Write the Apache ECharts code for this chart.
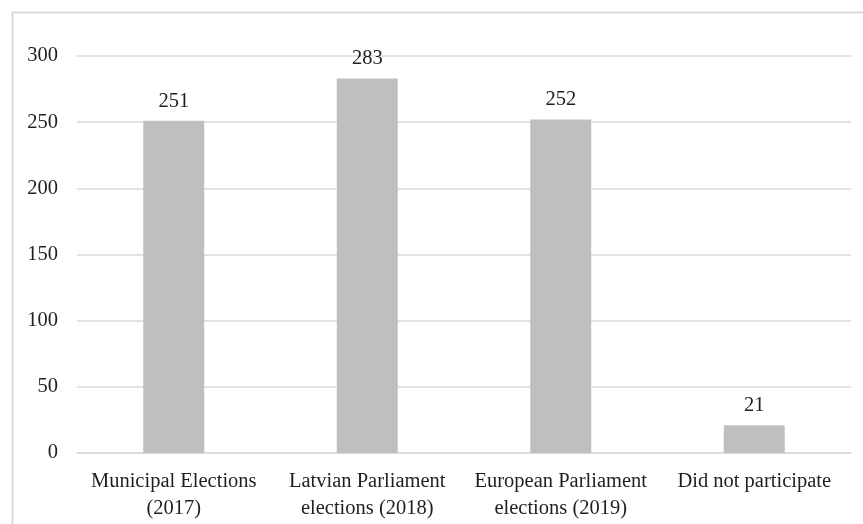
<!DOCTYPE html>
<html>
<head>
<meta charset="utf-8">
<script src="https://cdn.jsdelivr.net/npm/echarts@6/dist/echarts.min.js"></script>
<style>
  html, body { margin: 0; padding: 0; background: #fff; }
  #chart { width: 863px; height: 524px; }
</style>
</head>
<body>
<div id="chart"></div>
<script>
// Election participation counts
const categories = [
  'Municipal Elections\n(2017)',
  'Latvian Parliament\nelections (2018)',
  'European Parliament\nelections (2019)',
  'Did not participate'
];
const counts = [251, 283, 252, 21];
const yTicks = { min: 0, max: 300, interval: 50 };

const FONT = '"Liberation Serif", "Times New Roman", serif';
const TEXT = '#1f1f1f';
const chart = echarts.init(document.getElementById('chart'), null, { renderer: 'canvas' });

chart.setOption({
  animation: false,
  backgroundColor: '#ffffff',
  graphic: [{
    type: 'rect',
    left: 10, top: 10,
    shape: { x: 0, y: 0, width: 880, height: 540 },
    style: { fill: 'none', stroke: '#d9d9d9', lineWidth: 2 },
    silent: true,
    z: -1
  }],
  grid: { left: 77, right: 12, top: 56, bottom: 71, containLabel: false },
  xAxis: {
    type: 'category',
    data: categories,
    axisLine: { show: true, lineStyle: { color: '#d9d9d9', width: 1.5 } },
    axisTick: { show: false },
    axisLabel: {
      color: TEXT,
      fontFamily: FONT,
      fontSize: 20.5,
      lineHeight: 27,
      margin: 15,
      interval: 0
    }
  },
  yAxis: {
    type: 'value',
    min: yTicks.min,
    max: yTicks.max,
    interval: yTicks.interval,
    axisLine: { show: false },
    axisTick: { show: false },
    splitLine: { lineStyle: { color: '#d9d9d9', width: 1.5 } },
    axisLabel: {
      color: TEXT,
      fontFamily: FONT,
      fontSize: 20.5,
      margin: 19
    }
  },
  series: [{
    type: 'bar',
    data: counts,
    barWidth: '31.5%',
    itemStyle: { color: '#bfbfbf' },
    label: {
      show: true,
      position: 'top',
      distance: 9,
      color: TEXT,
      fontFamily: FONT,
      fontSize: 20.5
    }
  }]
});
</script>
</body>
</html>
